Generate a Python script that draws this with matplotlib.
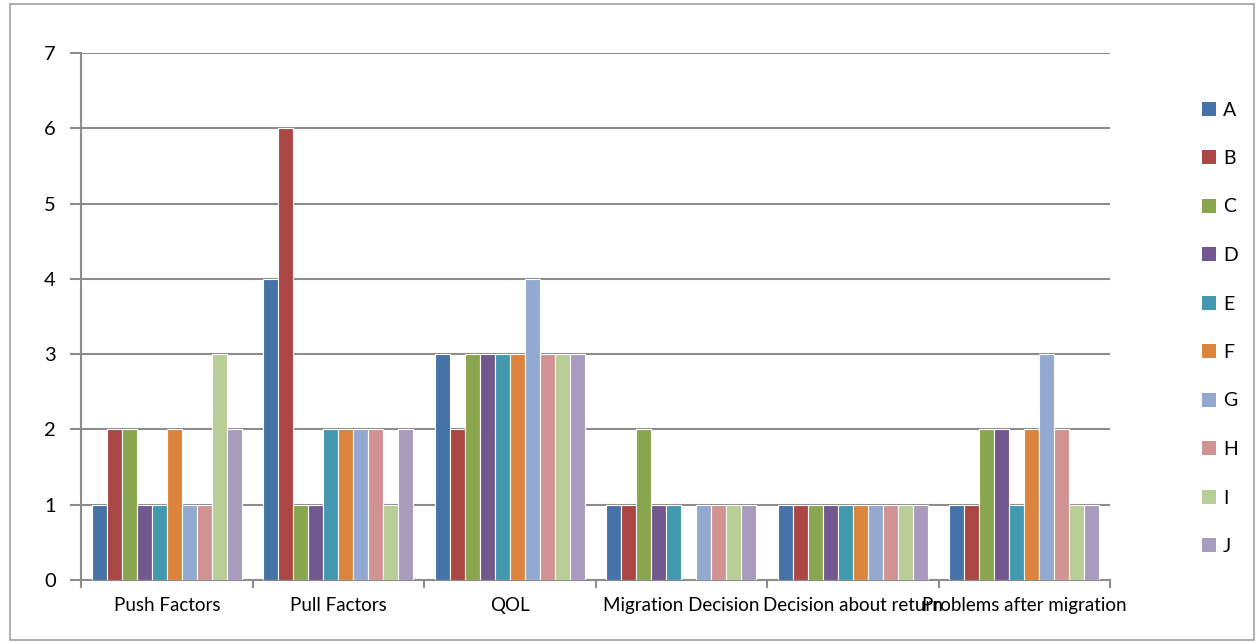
import numpy as np
import matplotlib.pyplot as plt
from matplotlib.patches import Rectangle, Patch

categories = ["Push Factors", "Pull Factors", "QOL", "Migration Decision",
              "Decision about return", "Problems after migration"]
series = ["A", "B", "C", "D", "E", "F", "G", "H", "I", "J"]
values = {
    "A": [1, 4, 3, 1, 1, 1],
    "B": [2, 6, 2, 1, 1, 1],
    "C": [2, 1, 3, 2, 1, 2],
    "D": [1, 1, 3, 1, 1, 2],
    "E": [1, 2, 3, 1, 1, 1],
    "F": [2, 2, 3, 0, 1, 2],
    "G": [1, 2, 4, 1, 1, 3],
    "H": [1, 2, 3, 1, 1, 2],
    "I": [3, 1, 3, 1, 1, 1],
    "J": [2, 2, 3, 1, 1, 1],
}
colors = ["#4572A7", "#AA4643", "#89A54E", "#71588F", "#4198AF",
          "#DB843D", "#93A9CF", "#D19392", "#B9CD96", "#A99BBD"]

plt.rcParams["font.family"] = ["Lato", "DejaVu Sans"]

fig = plt.figure(figsize=(12.6, 6.43), dpi=100)
ax = fig.add_axes([81 / 1260, 1 - 580 / 643, (1110 - 81) / 1260, (580 - 53) / 643])

# outer chart frame
fig.patches.append(Rectangle((10 / 1260, 3 / 643), 1244 / 1260, 636 / 643,
                             transform=fig.transFigure, fill=False,
                             edgecolor="#a0a0a0", linewidth=1.2))

n = len(series)
group = 0.875
w = group / n
x = np.arange(len(categories))
for i, s in enumerate(series):
    ax.bar(x - group / 2 + w * (i + 0.5), values[s], width=w, color=colors[i],
           edgecolor="white", linewidth=0.8, label=s, zorder=3)

ax.set_xlim(-0.5, len(categories) - 0.5)
ax.set_ylim(0, 7)
ax.set_yticks(range(8))
ax.yaxis.grid(True, color="#8c8c8c", linewidth=1.5, zorder=0)
ax.set_axisbelow(True)

ax.set_xticks(x)
ax.set_xticklabels(categories, fontsize=13.5)
ax.set_xticks(np.arange(-0.5, len(categories)), minor=True)
ax.tick_params(axis="x", which="major", length=0, pad=12)
ax.tick_params(axis="x", which="minor", length=6, color="#8c8c8c", width=1.5)
ax.tick_params(axis="y", length=8, color="#8c8c8c", width=1.5, labelsize=14.5, pad=10)

for side in ["top", "right"]:
    ax.spines[side].set_visible(False)
for side in ["left", "bottom"]:
    ax.spines[side].set_color("#8c8c8c")
    ax.spines[side].set_linewidth(1.5)

handles = [Patch(facecolor=c, edgecolor="none") for c in colors]
fig.legend(handles, series, loc="upper left", bbox_to_anchor=(1184 / 1260, 1 - 84 / 643),
           frameon=False, fontsize=14, handlelength=0.75, handleheight=0.75,
           handletextpad=0.35, labelspacing=1.62)

fig.savefig("out.png", dpi=100)
